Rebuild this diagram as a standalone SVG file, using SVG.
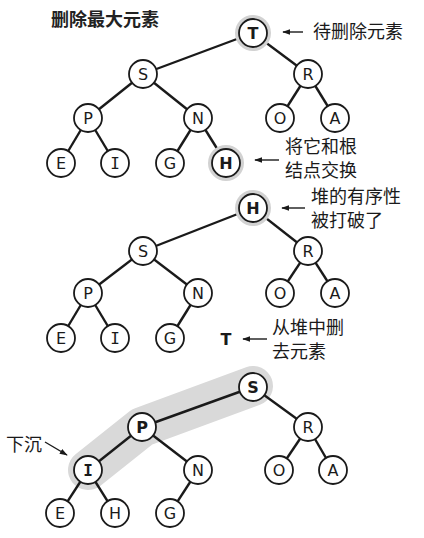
<svg xmlns="http://www.w3.org/2000/svg" width="424" height="538" viewBox="0 0 424 538">
<defs>
<style>
.edge{stroke:#1a1a1a;stroke-width:2.4;fill:none}
.node circle.c{fill:#fff;stroke:#1a1a1a;stroke-width:1.8}
.node text{font-family:"DejaVu Sans","Liberation Sans",sans-serif;font-size:16px;text-anchor:middle;dominant-baseline:central;fill:#1a1a1a}
.node text.b{font-weight:bold}
.node text.m{font-family:"DejaVu Sans Mono","Liberation Mono",monospace}
.halo{fill:#d2d2d2}
.lbl{font-family:"Noto Sans CJK SC",sans-serif;font-size:18px;fill:#1a1a1a}
.title{font-family:"Noto Sans CJK SC",sans-serif;font-size:18px;font-weight:bold;fill:#222}
.arr{stroke:#1a1a1a;stroke-width:1.4;fill:none;marker-end:url(#ah)}
</style>
<marker id="ah" viewBox="0 0 10 10" refX="9" refY="5" markerWidth="8" markerHeight="8" markerUnits="userSpaceOnUse" orient="auto">
<path d="M0,1.5 L10,5 L0,8.5 z" fill="#1a1a1a"/>
</marker>
</defs>
<rect width="424" height="538" fill="#fff"/>
<text class="title" x="51" y="26">删除最大元素</text>

<!-- highlight band bottom -->
<polyline points="253,386 142,427 88,470" fill="none" stroke="#d9d9d9" stroke-width="40" stroke-linecap="round" stroke-linejoin="round"/>

<g id="connectors">
<!-- top -->
<line class="edge" x1="253" y1="33" x2="143" y2="74"/>
<line class="edge" x1="253" y1="33" x2="308" y2="74"/>
<line class="edge" x1="143" y1="74" x2="88" y2="118"/>
<line class="edge" x1="143" y1="74" x2="198" y2="118"/>
<line class="edge" x1="308" y1="74" x2="280" y2="118"/>
<line class="edge" x1="308" y1="74" x2="335" y2="118"/>
<line class="edge" x1="88" y1="118" x2="61" y2="163"/>
<line class="edge" x1="88" y1="118" x2="115" y2="163"/>
<line class="edge" x1="198" y1="118" x2="170" y2="163"/>
<line class="edge" x1="198" y1="118" x2="226" y2="163"/>
<!-- middle -->
<line class="edge" x1="253" y1="208" x2="143" y2="251"/>
<line class="edge" x1="253" y1="208" x2="308" y2="251"/>
<line class="edge" x1="143" y1="251" x2="88" y2="293"/>
<line class="edge" x1="143" y1="251" x2="198" y2="293"/>
<line class="edge" x1="308" y1="251" x2="280" y2="293"/>
<line class="edge" x1="308" y1="251" x2="335" y2="293"/>
<line class="edge" x1="88" y1="293" x2="61" y2="338"/>
<line class="edge" x1="88" y1="293" x2="115" y2="338"/>
<line class="edge" x1="198" y1="293" x2="170" y2="338"/>
<!-- bottom -->
<line class="edge" x1="253" y1="387" x2="142" y2="427"/>
<line class="edge" x1="253" y1="387" x2="308" y2="427"/>
<line class="edge" x1="142" y1="427" x2="88" y2="470"/>
<line class="edge" x1="142" y1="427" x2="198" y2="470"/>
<line class="edge" x1="308" y1="427" x2="279" y2="470"/>
<line class="edge" x1="308" y1="427" x2="333" y2="470"/>
<line class="edge" x1="88" y1="470" x2="60" y2="513"/>
<line class="edge" x1="88" y1="470" x2="115" y2="513"/>
<line class="edge" x1="198" y1="470" x2="170" y2="513"/>
<!-- annotation arrows -->
<line class="arr" x1="303" y1="32" x2="283" y2="32"/>
<line class="arr" x1="279" y1="160" x2="255" y2="160"/>
<line class="arr" x1="305" y1="208" x2="282" y2="208"/>
<line class="arr" x1="267" y1="339" x2="243" y2="339"/>
<line class="arr" x1="45" y1="442" x2="67" y2="455"/>
</g>

<!-- top tree -->
<g id="t1-T" class="node"><circle class="halo" cx="253" cy="33" r="18"/><circle class="c" cx="253" cy="33" r="14"/><text class="b" x="253" y="33">T</text></g>
<g id="t1-S" class="node"><circle class="c" cx="143" cy="74" r="14"/><text x="143" y="74">S</text></g>
<g id="t1-R" class="node"><circle class="c" cx="308" cy="74" r="14"/><text x="308" y="74">R</text></g>
<g id="t1-P" class="node"><circle class="c" cx="88" cy="118" r="14"/><text x="88" y="118">P</text></g>
<g id="t1-N" class="node"><circle class="c" cx="198" cy="118" r="14"/><text x="198" y="118">N</text></g>
<g id="t1-O" class="node"><circle class="c" cx="280" cy="118" r="14"/><text x="280" y="118">O</text></g>
<g id="t1-A" class="node"><circle class="c" cx="335" cy="118" r="14"/><text x="335" y="118">A</text></g>
<g id="t1-E" class="node"><circle class="c" cx="61" cy="163" r="14"/><text x="61" y="163">E</text></g>
<g id="t1-I" class="node"><circle class="c" cx="115" cy="163" r="14"/><text class="m" x="115" y="163">I</text></g>
<g id="t1-G" class="node"><circle class="c" cx="170" cy="163" r="14"/><text x="170" y="163">G</text></g>
<g id="t1-H" class="node"><circle class="halo" cx="226" cy="163" r="18"/><circle class="c" cx="226" cy="163" r="14"/><text class="b" x="226" y="163">H</text></g>
<g id="t1-labels">
<text class="lbl" x="313" y="38">待删除元素</text>
<text class="lbl" x="285" y="153">将它和根</text>
<text class="lbl" x="285" y="177">结点交换</text>
</g>

<!-- middle tree -->
<g id="t2-H" class="node"><circle class="halo" cx="253" cy="208" r="18"/><circle class="c" cx="253" cy="208" r="14"/><text class="b" x="253" y="208">H</text></g>
<g id="t2-S" class="node"><circle class="c" cx="143" cy="251" r="14"/><text x="143" y="251">S</text></g>
<g id="t2-R" class="node"><circle class="c" cx="308" cy="251" r="14"/><text x="308" y="251">R</text></g>
<g id="t2-P" class="node"><circle class="c" cx="88" cy="293" r="14"/><text x="88" y="293">P</text></g>
<g id="t2-N" class="node"><circle class="c" cx="198" cy="293" r="14"/><text x="198" y="293">N</text></g>
<g id="t2-O" class="node"><circle class="c" cx="280" cy="293" r="14"/><text x="280" y="293">O</text></g>
<g id="t2-A" class="node"><circle class="c" cx="335" cy="293" r="14"/><text x="335" y="293">A</text></g>
<g id="t2-E" class="node"><circle class="c" cx="61" cy="338" r="14"/><text x="61" y="338">E</text></g>
<g id="t2-I" class="node"><circle class="c" cx="115" cy="338" r="14"/><text class="m" x="115" y="338">I</text></g>
<g id="t2-G" class="node"><circle class="c" cx="170" cy="338" r="14"/><text x="170" y="338">G</text></g>
<g id="t2-T" class="node"><text class="b" x="226" y="339">T</text></g>
<g id="t2-labels">
<text class="lbl" x="311" y="203">堆的有序性</text>
<text class="lbl" x="311" y="227">被打破了</text>
<text class="lbl" x="272" y="334">从堆中删</text>
<text class="lbl" x="272" y="358">去元素</text>
</g>

<!-- bottom tree -->
<g id="t3-S" class="node"><circle class="c" cx="253" cy="387" r="14"/><text class="b" x="253" y="387">S</text></g>
<g id="t3-P" class="node"><circle class="c" cx="142" cy="427" r="14"/><text class="b" x="142" y="427">P</text></g>
<g id="t3-R" class="node"><circle class="c" cx="308" cy="427" r="14"/><text x="308" y="427">R</text></g>
<g id="t3-I" class="node"><circle class="c" cx="88" cy="470" r="14"/><text class="b m" x="88" y="470">I</text></g>
<g id="t3-N" class="node"><circle class="c" cx="198" cy="470" r="14"/><text x="198" y="470">N</text></g>
<g id="t3-O" class="node"><circle class="c" cx="279" cy="470" r="14"/><text x="279" y="470">O</text></g>
<g id="t3-A" class="node"><circle class="c" cx="333" cy="470" r="14"/><text x="333" y="470">A</text></g>
<g id="t3-E" class="node"><circle class="c" cx="60" cy="513" r="14"/><text x="60" y="513">E</text></g>
<g id="t3-H" class="node"><circle class="c" cx="115" cy="513" r="14"/><text x="115" y="513">H</text></g>
<g id="t3-G" class="node"><circle class="c" cx="170" cy="513" r="14"/><text x="170" y="513">G</text></g>
<g id="t3-labels">
<text class="lbl" x="6" y="451">下沉</text>
</g>
</svg>
